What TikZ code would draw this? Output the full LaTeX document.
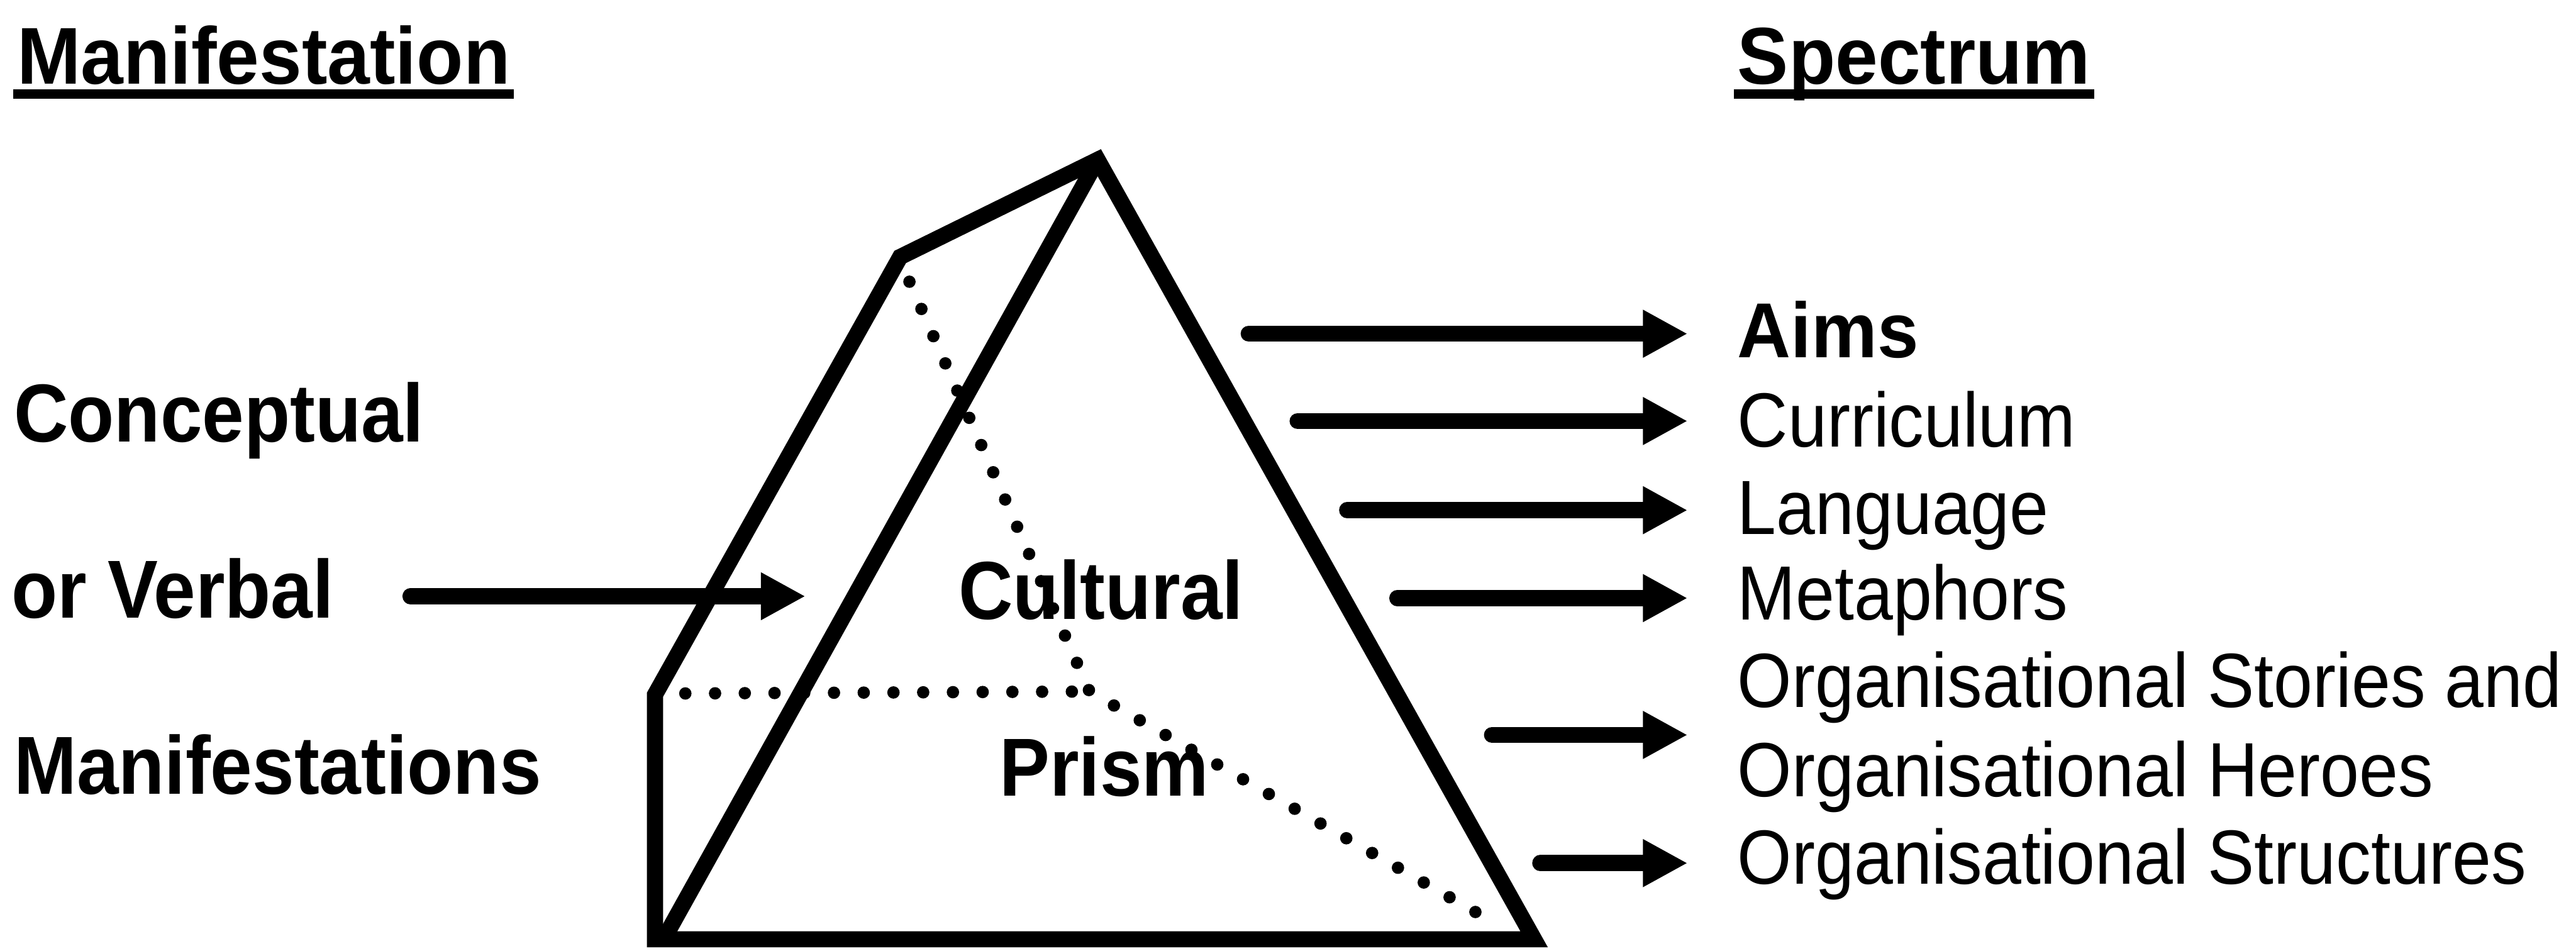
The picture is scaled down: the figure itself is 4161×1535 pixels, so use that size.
\documentclass[tikz,border=0pt]{standalone}
\usepackage{fontspec}
\usetikzlibrary{arrows.meta}
\newfontfamily\headfnt[FakeStretch=0.95]{Liberation Sans}
\newfontfamily\boldfnt[FakeStretch=0.915]{Liberation Sans}
\newfontfamily\itemfnt[FakeStretch=0.91]{Liberation Sans}
\tikzset{
  txt/.style={inner sep=0pt, anchor=base west},
  headtxt/.style={txt, font=\headfnt\bfseries\fontsize{37}{40}\selectfont},
  lbltxt/.style={txt, font=\boldfnt\bfseries\fontsize{37.8}{40}\selectfont},
  itemtxt/.style={txt, font=\itemfnt\fontsize{35.3}{38}\selectfont},
  itembold/.style={txt, font=\headfnt\bfseries\fontsize{35.8}{38}\selectfont},
  uline/.style={line width=4.3pt},
  edge/.style={line width=0.26cm, line join=miter},
  hidden/.style={line width=0.2cm, dash pattern=on 0pt off 0.48cm, line cap=round},
  arr/.style={line width=0.26cm, line cap=round, -{Triangle[length=0.72cm,width=0.72cm]}},
}
\begin{document}
\begin{tikzpicture}[x=0.01cm, y=-0.01cm]
\useasboundingbox (0,0) rectangle (4161,1535);

% headings
\node[headtxt] (mani) at (27,136) {Manifestation};
\node[headtxt] (spec) at (2806,136) {Spectrum};
\draw[uline] ([xshift=-1.5pt,yshift=-4.5pt]mani.base west) -- ([xshift=1.5pt,yshift=-4.5pt]mani.base east);
\draw[uline] ([xshift=-1.5pt,yshift=-4.5pt]spec.base west) -- ([xshift=1.5pt,yshift=-4.5pt]spec.base east);

% left labels
\node[lbltxt] (conc) at (22,714) {Conceptual};
\node[lbltxt] (verb) at (18,998) {or Verbal};
\node[lbltxt] (manis) at (22,1283) {Manifestations};

% prism vertices
\coordinate (apex) at (1773,258);
\coordinate (backtop) at (1454,415);
\coordinate (leftlow) at (1058,1122);
\coordinate (bl) at (1058,1517);
\coordinate (br) at (2478,1517);
\coordinate (frontbl) at (1072,1517);
\coordinate (inner) at (1760,1117);

% hidden edges
\draw[hidden] (1469,455) -- (inner) -- (2413,1490);
\draw[hidden] (1107,1120) -- (1735,1117);

% visible edges
\draw[edge] (backtop) -- (apex) -- (br) -- (bl) -- (leftlow) -- cycle;
\draw[edge] (apex) -- (frontbl);

% prism labels
\node[lbltxt] (cult) at (1548,1000) {Cultural};
\node[lbltxt] (prism) at (1614,1286) {Prism};

% right items
\node[itembold] (aims) at (2806,577) {Aims};
\node[itemtxt] (curr) at (2806,722) {Curriculum};
\node[itemtxt] (lang) at (2806,863) {Language};
\node[itemtxt] (meta) at (2806,1001) {Metaphors};
\node[itemtxt] (stor) at (2806,1142) {Organisational Stories and};
\node[itemtxt] (hero) at (2806,1287) {Organisational Heroes};
\node[itemtxt] (struc) at (2806,1428) {Organisational Structures};

% input arrow
\coordinate (vs) at (663,963);
\coordinate (ve) at (1301,963);
\draw[arr] (vs) -- (ve);

% output arrows
\coordinate (s1) at (2017,539);
\coordinate (s2) at (2096,680);
\coordinate (s3) at (2176,824);
\coordinate (s4) at (2257,966);
\coordinate (s5) at (2410,1187);
\coordinate (s6) at (2488,1394);
\draw[arr, shorten >=0.8cm] (s1) -- (s1 -| aims.west);
\draw[arr, shorten >=0.8cm] (s2) -- (s2 -| curr.west);
\draw[arr, shorten >=0.8cm] (s3) -- (s3 -| lang.west);
\draw[arr, shorten >=0.8cm] (s4) -- (s4 -| meta.west);
\draw[arr, shorten >=0.8cm] (s5) -- (s5 -| stor.west);
\draw[arr, shorten >=0.8cm] (s6) -- (s6 -| struc.west);
\end{tikzpicture}
\end{document}
